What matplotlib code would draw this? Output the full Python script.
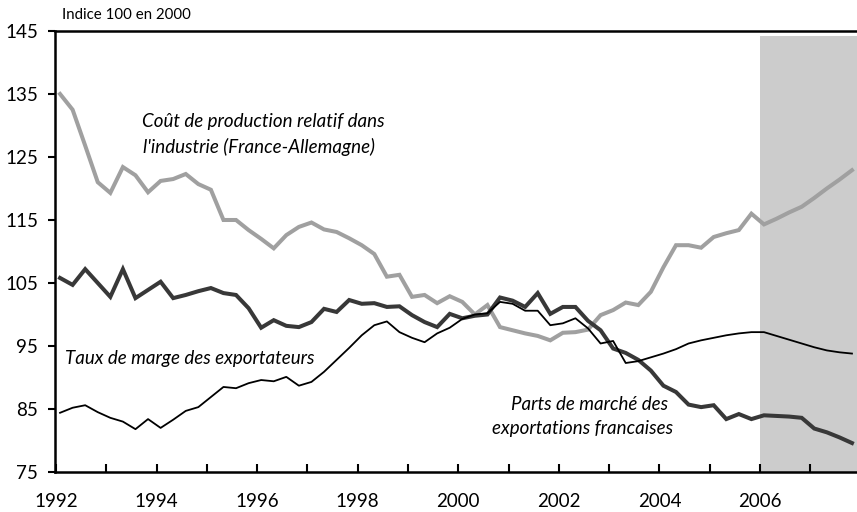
import numpy as np
import matplotlib
matplotlib.use("Agg")
import matplotlib.pyplot as plt
from matplotlib.transforms import ScaledTranslation

plt.rcParams['font.family'] = ['Lato', 'DejaVu Sans']

# trimestres 1992T1 - 2007T4
annees = 1992.08 + np.arange(64) * 0.25

cout_relatif = [135.0, 132.5, 126.8, 121.0, 119.3, 123.4, 122.1, 119.4,
                121.2, 121.5, 122.3, 120.7, 119.8, 115.0, 115.0, 113.4,
                112.0, 110.5, 112.6, 113.9, 114.6, 113.5, 113.1, 112.1,
                111.0, 109.6, 106.0, 106.3, 102.8, 103.1, 101.8, 102.9,
                102.0, 100.0, 101.5, 98.0, 97.5, 97.0, 96.6, 95.9,
                97.1, 97.2, 97.6, 99.9, 100.7, 101.9, 101.5, 103.6,
                107.5, 111.0, 111.0, 110.6, 112.3, 112.9, 113.4, 116.0,
                114.3, 115.2, 116.2, 117.1, 118.5, 120.0, 121.4, 122.9]

parts_marche = [105.8, 104.7, 107.2, 105.0, 102.8, 107.2, 102.6, 103.9,
                105.2, 102.6, 103.1, 103.7, 104.2, 103.4, 103.1, 101.0,
                97.9, 99.1, 98.2, 98.0, 98.8, 100.9, 100.4, 102.3,
                101.7, 101.8, 101.2, 101.3, 99.9, 98.8, 98.0, 100.1,
                99.4, 99.8, 100.0, 102.7, 102.2, 101.2, 103.4, 100.1,
                101.2, 101.2, 99.0, 97.5, 94.6, 93.9, 92.8, 91.1,
                88.7, 87.7, 85.7, 85.3, 85.6, 83.4, 84.2, 83.4,
                84.0, 83.9, 83.8, 83.6, 81.9, 81.3, 80.5, 79.6]

taux_marge = [84.4, 85.2, 85.6, 84.5, 83.6, 83.0, 81.8, 83.4,
              82.0, 83.3, 84.7, 85.3, 86.9, 88.5, 88.3, 89.1,
              89.6, 89.4, 90.1, 88.7, 89.3, 90.9, 92.8, 94.7,
              96.7, 98.3, 98.9, 97.2, 96.3, 95.6, 97.0, 97.9,
              99.3, 100.0, 100.2, 102.0, 101.7, 100.6, 100.6, 98.3,
              98.6, 99.4, 97.8, 95.4, 95.8, 92.3, 92.6, 93.2,
              93.8, 94.5, 95.4, 95.9, 96.3, 96.7, 97.0, 97.2,
              97.2, 96.6, 96.0, 95.4, 94.8, 94.3, 94.0, 93.8]

fig = plt.figure(figsize=(8.57, 5.12), dpi=100)
ax = fig.add_axes([0.0642, 0.0781, 0.9358, 0.8614])

# zone de prévision
ax.axvspan(2006, 2008, ymin=0, ymax=(144.2 - 75) / 70, color='#cccccc', lw=0, zorder=0)

ax.plot(annees, cout_relatif, color='#a0a0a0', lw=2.9, solid_joinstyle='miter', zorder=2)
ax.plot(annees, parts_marche, color='#383838', lw=2.9, solid_joinstyle='miter', zorder=3)
ax.plot(annees, taux_marge, color='black', lw=1.3, zorder=4)

ax.set_xlim(1991.98, 2007.93)
ax.set_ylim(75, 145)
ax.set_yticks(np.arange(75, 146, 10))
ax.set_xticks(np.arange(1992, 2008, 1))
ax.set_xticklabels([str(a) if a % 2 == 0 else '' for a in range(1992, 2008)])
for lab in ax.get_xticklabels():
    lab.set_transform(lab.get_transform() + ScaledTranslation(5 / 100, 0, fig.dpi_scale_trans))

ax.spines['right'].set_visible(False)
for s in ['left', 'bottom', 'top']:
    ax.spines[s].set_linewidth(1.8)
ax.tick_params(axis='y', direction='out', length=5, width=1.5, labelsize=13.5, pad=7)
ax.tick_params(axis='x', direction='in', length=6, width=1.5, labelsize=13.5, pad=15)

fig.text(62 / 857, 1 - 15 / 512, 'Indice 100 en 2000', fontsize=10.8, va='center', ha='left')

fs = 13.5
ax.text(2000 - (458 - 263) / 50.3, 145 - (122 - 31) / 6.3, 'Coût de production relatif dans',
        style='italic', fontsize=fs, ha='center', va='center')
ax.text(2000 - (458 - 259) / 50.3, 145 - (147 - 31) / 6.3, "l'industrie (France-Allemagne)",
        style='italic', fontsize=fs, ha='center', va='center')
ax.text(2000 - (458 - 65) / 50.3, 145 - (358 - 31) / 6.3, 'Taux de marge des exportateurs',
        style='italic', fontsize=fs, ha='left', va='center')
ax.text(2000 + (589 - 458) / 50.3, 145 - (404 - 31) / 6.3, 'Parts de marché des',
        style='italic', fontsize=fs, ha='center', va='center')
ax.text(2000 + (582 - 458) / 50.3, 145 - (428 - 31) / 6.3, 'exportations francaises',
        style='italic', fontsize=fs, ha='center', va='center')

fig.savefig('out.png', dpi=100)
